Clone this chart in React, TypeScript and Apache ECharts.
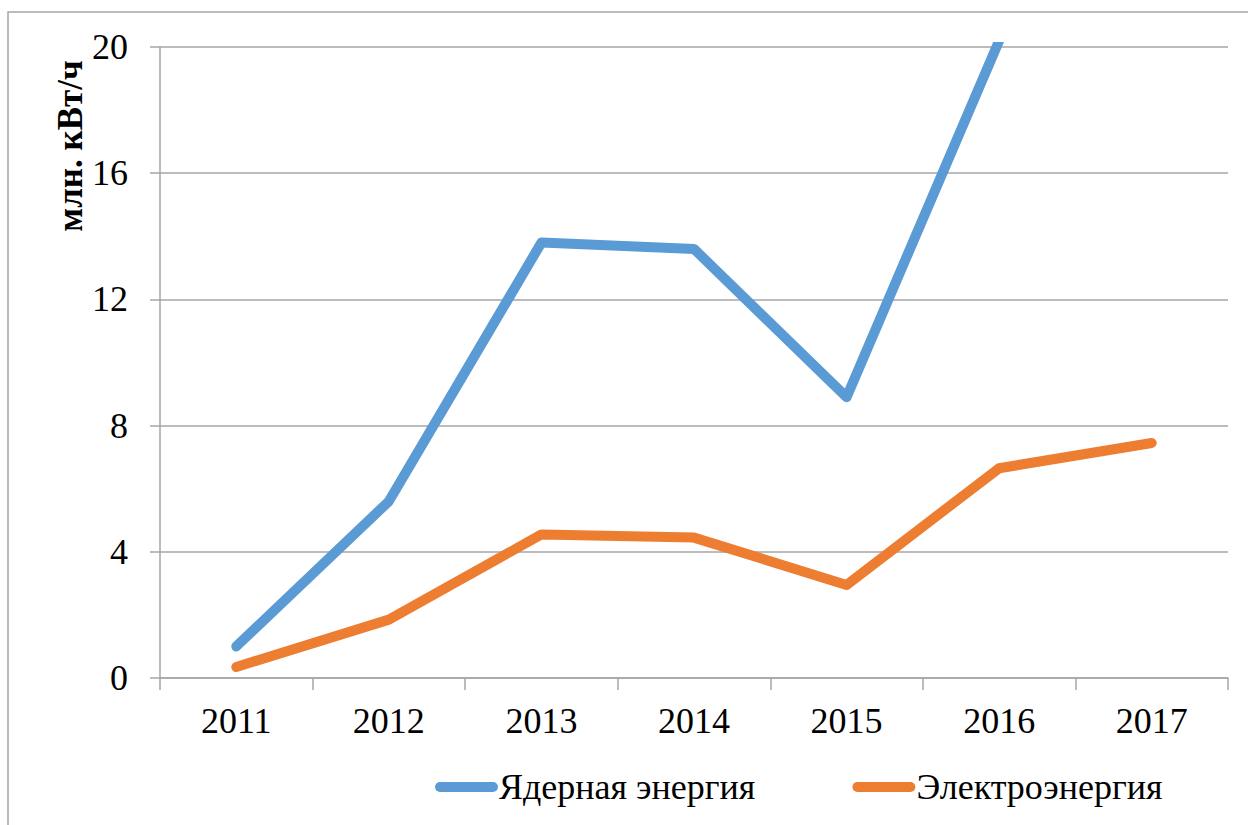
import React, { useEffect, useRef } from "react";
import * as echarts from "echarts";

const years = ["2011", "2012", "2013", "2014", "2015", "2016", "2017"];
const nuclear: (number | null)[] = [1.0, 5.6, 13.8, 13.6, 8.9, 20.2, null];
const electricity: number[] = [0.35, 1.85, 4.55, 4.45, 2.95, 6.65, 7.45];
const yTicks = { min: 0, max: 20, interval: 4 };
const yTitle = "млн. кВт/ч";
const seriesNames = ["Ядерная энергия", "Электроэнергия"];

const FONT = "Liberation Serif";
const capsule = "path://M5,0 L58,0 A5,5 0 0 1 58,10 L5,10 A5,5 0 0 1 5,0 Z";

export default function App() {
  const ref = useRef<HTMLDivElement>(null);
  useEffect(() => {
    if (!ref.current) return;
    const chart = echarts.init(ref.current, null, { renderer: "svg" });
    chart.setOption({
      animation: false,
      backgroundColor: "#ffffff",
      textStyle: { fontFamily: FONT },
      grid: { left: 160, right: 20, top: 47, bottom: 147, containLabel: false },
      xAxis: {
        type: "category",
        data: years,
        boundaryGap: true,
        axisLine: { show: true, lineStyle: { color: "#a6a6a6", width: 1.5 } },
        axisTick: { show: true, length: 12, alignWithLabel: false, lineStyle: { color: "#a6a6a6", width: 1.5 } },
        axisLabel: { color: "#000", fontFamily: FONT, fontSize: 36, margin: 25 },
        splitLine: { show: false },
      },
      yAxis: {
        type: "value",
        min: yTicks.min,
        max: yTicks.max,
        interval: yTicks.interval,
        axisLine: { show: true, lineStyle: { color: "#a6a6a6", width: 1.5 } },
        axisTick: { show: true, length: 10, lineStyle: { color: "#a6a6a6", width: 1.5 } },
        axisLabel: { color: "#000", fontFamily: FONT, fontSize: 36, margin: 32 },
        splitLine: { show: true, lineStyle: { color: "#a6a6a6", width: 1.5 } },
      },
      legend: {
        left: 430,
        top: 764,
        itemWidth: 63,
        itemHeight: 11,
        itemGap: 97,
        icon: capsule,
        textStyle: { color: "#000", fontFamily: FONT, fontSize: 36, padding: [0, 0, 0, -4] },
        data: seriesNames,
      },
      graphic: [
        {
          type: "rect",
          shape: { x: 8, y: 12, width: 1300, height: 900 },
          style: { fill: "none", stroke: "#a6a6a6", lineWidth: 1.5 },
          silent: true,
        },
        {
          type: "text",
          x: 70,
          y: 146,
          rotation: Math.PI / 2,
          style: {
            text: yTitle,
            fontFamily: FONT,
            fontSize: 35,
            fontWeight: "bold",
            fill: "#000",
            textAlign: "center",
            textVerticalAlign: "middle",
          },
        },
      ],
      series: [
        {
          name: seriesNames[0],
          type: "line",
          data: nuclear,
          showSymbol: false,
          symbol: "none",
          clip: true,
          color: "#5b9bd5",
          lineStyle: { color: "#5b9bd5", width: 10, cap: "round", join: "round" },
        },
        {
          name: seriesNames[1],
          type: "line",
          data: electricity,
          showSymbol: false,
          symbol: "none",
          clip: true,
          color: "#ed7d31",
          lineStyle: { color: "#ed7d31", width: 10, cap: "round", join: "round" },
        },
      ],
    });
    return () => chart.dispose();
  }, []);
  return (
    <div
      ref={ref}
      style={{ position: "absolute", left: 0, top: 0, width: 1248, height: 825 }}
    />
  );
}
